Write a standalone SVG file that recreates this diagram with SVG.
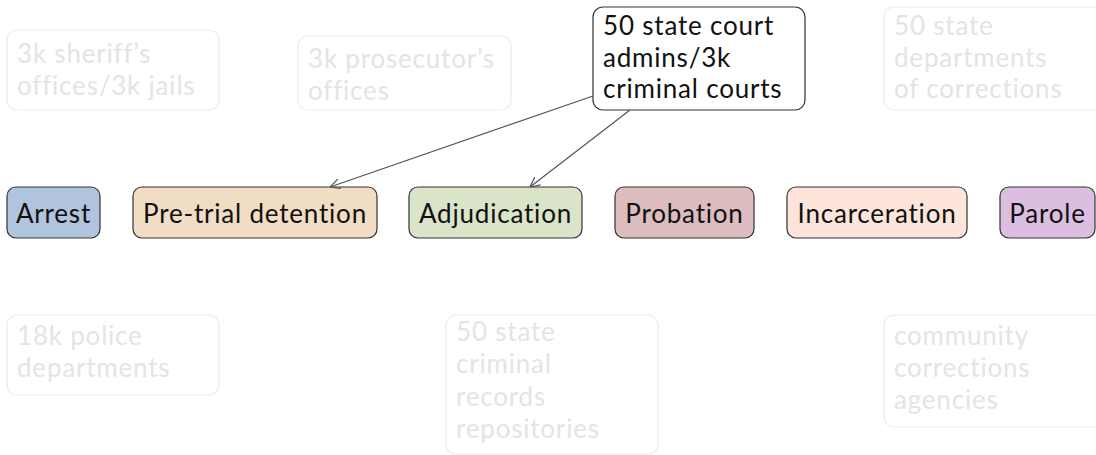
<svg xmlns="http://www.w3.org/2000/svg" width="1096" height="455" viewBox="0 0 1096 455">
<defs>
<marker id="vee" viewBox="0 0 10 10" refX="10" refY="5" markerWidth="10" markerHeight="10" markerUnits="userSpaceOnUse" orient="auto">
<path d="M0,0 L10,5 L0,10" fill="none" stroke="#555" stroke-width="1.2"/>
</marker>
<style>
text{font-family:Lato,"Open Sans","Liberation Sans",sans-serif;font-size:26px;letter-spacing:0.8px;}
.main rect{stroke:#333;stroke-width:1.2;}
.main text{fill:#111;text-anchor:middle;}
.top rect{fill:#fff;stroke:#333;stroke-width:1.2;}
.top text{fill:#111;}
.faded rect{fill:none;stroke:#ececec;stroke-width:1.2;}
.faded text{fill:#e4e4e4;}
.edge{stroke:#555;stroke-width:1.2;fill:none;marker-end:url(#vee);}
</style>
</defs>
<rect width="1096" height="455" fill="#fff"/>

<g id="sheriff" class="faded"><rect x="7" y="30" width="212" height="80" rx="10"/><text x="17" y="63">3k sheriff’s</text><text x="17" y="95">offices/3k jails</text></g>
<g id="prosecutor" class="faded"><rect x="298" y="36" width="213" height="74" rx="10"/><text x="308" y="68">3k prosecutor’s</text><text x="308" y="100">offices</text></g>
<g id="corrections" class="faded"><rect x="884" y="7" width="220" height="103" rx="10"/><text x="894" y="35">50 state</text><text x="894" y="67">departments</text><text x="894" y="98">of corrections</text></g>
<g id="police" class="faded"><rect x="7" y="315" width="212" height="80" rx="10"/><text x="17" y="345">18k police</text><text x="17" y="377">departments</text></g>
<g id="records" class="faded"><rect x="446" y="315" width="212" height="139" rx="10"/><text x="456" y="341">50 state</text><text x="456" y="373">criminal</text><text x="456" y="406">records</text><text x="456" y="438">repositories</text></g>
<g id="community" class="faded"><rect x="884" y="315" width="220" height="112" rx="10"/><text x="894" y="345">community</text><text x="894" y="377">corrections</text><text x="894" y="409">agencies</text></g>

<g id="courts" class="top"><rect x="593" y="7" width="212" height="103" rx="10"/><text x="603" y="35">50 state court</text><text x="603" y="67">admins/3k</text><text x="603" y="98">criminal courts</text></g>

<g id="arrest" class="main"><rect x="7" y="187" width="93" height="51" rx="9" fill="#b0c4de"/><text x="53.5" y="223">Arrest</text></g>
<g id="pretrial" class="main"><rect x="133" y="187" width="244" height="51" rx="9" fill="#f1dcc4"/><text x="255" y="223">Pre-trial detention</text></g>
<g id="adjudication" class="main"><rect x="409" y="187" width="173" height="51" rx="9" fill="#d9e4c8"/><text x="495.5" y="223">Adjudication</text></g>
<g id="probation" class="main"><rect x="615" y="187" width="139" height="51" rx="9" fill="#dcbcbf"/><text x="684.5" y="223">Probation</text></g>
<g id="incarceration" class="main"><rect x="787" y="187" width="180" height="51" rx="9" fill="#fde5dc"/><text x="877" y="223">Incarceration</text></g>
<g id="parole" class="main"><rect x="1000" y="187" width="95" height="51" rx="9" fill="#dcbfe0"/><text x="1047.5" y="223">Parole</text></g>

<g id="connectors">
<line class="edge" x1="593" y1="96" x2="330" y2="187"/>
<line class="edge" x1="630" y1="110" x2="530" y2="187"/>
</g>
</svg>
